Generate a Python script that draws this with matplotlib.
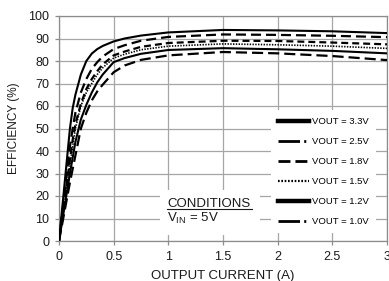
import matplotlib
matplotlib.use("Agg")
import matplotlib.pyplot as plt
from matplotlib.lines import Line2D
from matplotlib.patches import Rectangle

plt.rcParams['font.family'] = ['Liberation Sans', 'DejaVu Sans']
plt.rcParams['mathtext.fontset'] = 'custom'
plt.rcParams['mathtext.rm'] = 'Liberation Sans'
plt.rcParams['lines.scale_dashes'] = False

# ---- data ----
current = [0, 0.05, 0.1, 0.125, 0.15, 0.2, 0.25, 0.3, 0.35, 0.4, 0.5, 0.6, 0.75, 1.0, 1.5, 2.0, 2.5, 3.0]
eff_33 = [0, 25, 50, 59, 65, 74, 80, 83.3, 85.3, 86.7, 88.7, 90, 91.3, 92.7, 93.8, 93.6, 93.2, 92.4]
eff_25 = [0, 21, 42, 50, 57, 66, 72, 76.5, 79.5, 82, 85.3, 87, 89, 90.7, 91.8, 91.6, 91.2, 90.6]
eff_18 = [0, 18, 36, 45, 52, 61, 67.5, 72, 75.5, 78.5, 82.5, 84.2, 86.3, 88, 89, 88.9, 88.2, 87.4]
eff_15 = [0, 17, 34, 42, 50, 60, 66, 70, 74, 77, 81.3, 83, 85, 86.6, 87.6, 87.2, 86.6, 85.6]
eff_12 = [0, 15, 30, 37, 44, 54, 60.5, 66, 70.5, 74, 79.5, 81.3, 83.2, 84.9, 85.7, 85.2, 84.5, 83.4]
eff_10 = [0, 13, 26, 32, 38, 50, 57, 62.5, 66.5, 69.5, 75, 78, 80.5, 82.5, 84, 83.4, 82.2, 80.4]
labels = ["VOUT = 3.3V", "VOUT = 2.5V", "VOUT = 1.8V", "VOUT = 1.5V", "VOUT = 1.2V", "VOUT = 1.0V"]
x_ticks = [0, 0.5, 1, 1.5, 2, 2.5, 3]
x_ticklabels = ["0", "0.5", "1", "1.5", "2", "2.5", "3"]
y_ticks = list(range(0, 101, 10))

fig = plt.figure(figsize=(3.89, 2.81), dpi=100)
ax = fig.add_axes([59/389, 1-241/281, 328/389, 225/281])

series = [eff_33, eff_25, eff_18, eff_15, eff_12, eff_10]
plot_styles = [
    dict(lw=1.5, ls='-'),
    dict(lw=1.6, dashes=(7.2, 3.6)),
    dict(lw=1.6, dashes=(5, 2.9)),
    dict(lw=1.2, dashes=(1.0, 1.0)),
    dict(lw=1.5, ls='-'),
    dict(lw=1.6, dashes=(8, 3.6)),
]
for ys, st in zip(series, plot_styles):
    ax.plot(current, ys, color='black', zorder=3, solid_joinstyle='round', **st)

ax.set_xlim(0, 3)
ax.set_ylim(0, 100)
ax.set_xticks(x_ticks)
ax.set_xticklabels(x_ticklabels)
ax.set_yticks(y_ticks)
ax.grid(True, color='#a6a6a6', lw=0.9, zorder=0)
ax.set_axisbelow(True)
for s in ax.spines.values():
    s.set_color('#8c8c8c')
    s.set_linewidth(0.9)
ax.tick_params(axis='both', length=3, width=0.9, color='#8c8c8c',
               labelsize=9, labelcolor='#1a1a1a', pad=4)
ax.set_xlabel("OUTPUT CURRENT (A)", fontsize=9.5, color='#1a1a1a', labelpad=5)
ax.set_ylabel("EFFICIENCY (%)", fontsize=8.5, color='#1a1a1a', labelpad=6)

# conditions box
ax.add_patch(Rectangle((0.308, 0.027), 0.305, 0.2, transform=ax.transAxes,
                       facecolor='white', edgecolor='none', zorder=4))
ax.text((167-59)/328, (241-207)/225, "CONDITIONS", transform=ax.transAxes,
        fontsize=9.5, ha='left', va='baseline', zorder=5, color='#1a1a1a')
ax.add_line(Line2D([(167-59)/328, (252-59)/328], [(241-209)/225]*2, transform=ax.transAxes,
                   color='#1a1a1a', lw=0.8, zorder=5))
ax.text((167-59)/328, (241-222)/225, r"V$_{\mathregular{IN}}$ = 5V", transform=ax.transAxes,
        fontsize=9.5, ha='left', va='baseline', zorder=5, color='#1a1a1a')

# legend
handle_styles = [
    dict(lw=3.2, ls='-'),
    dict(lw=2.0, dashes=(15.5, 3, 1.5, 3)),
    dict(lw=2.0, dashes=(8.6, 3.6)),
    dict(lw=1.6, dashes=(1.2, 1.2)),
    dict(lw=3.2, ls='-'),
    dict(lw=2.0, dashes=(15.5, 3, 1.5, 3)),
]
handles = [Line2D([], [], color='black', **st) for st in handle_styles]
leg = ax.legend(handles, labels, loc='upper left',
                bbox_to_anchor=((270.5-59)/328, (241-110)/225), bbox_transform=ax.transAxes,
                frameon=True, fancybox=False, edgecolor='none', facecolor='white', framealpha=1,
                fontsize=6.8, handlelength=3.3, handletextpad=0.35, labelspacing=1.17,
                borderpad=0.75, borderaxespad=0)
leg.set_zorder(6)

fig.savefig("out.png", dpi=100)
